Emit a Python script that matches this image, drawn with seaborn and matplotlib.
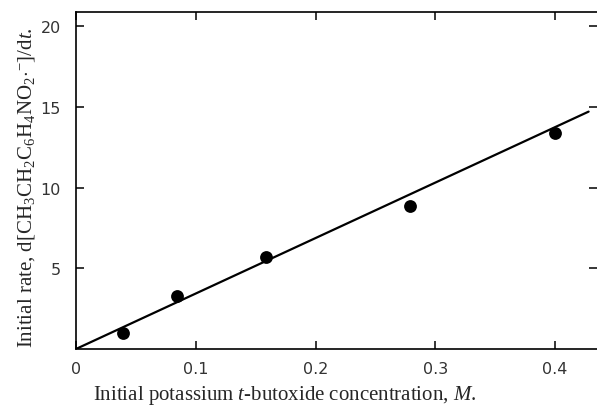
import matplotlib
matplotlib.use("Agg")
import matplotlib.pyplot as plt
import seaborn as sns
import pandas as pd

# data
conc = [0.039, 0.084, 0.159, 0.279, 0.400]
rate = [1.0, 3.3, 5.7, 8.85, 13.4]
fit_x = [0.0, 0.428]
fit_y = [0.0, 14.7]
xticks = [0, 0.1, 0.2, 0.3, 0.4]
xticklabels = ["0", "0.1", "0.2", "0.3", "0.4"]
yticks = [5, 10, 15, 20]
yticklabels = ["5", "10", "15", "20"]

sns.set_theme(style="ticks")
plt.rcParams["font.family"] = ["Liberation Serif", "DejaVu Serif"]
plt.rcParams["mathtext.fontset"] = "custom"
plt.rcParams["mathtext.rm"] = "Liberation Serif"
plt.rcParams["mathtext.it"] = "Liberation Serif:italic"

fig = plt.figure(figsize=(5.97, 4.06), dpi=100)
ax = fig.add_axes([0.1273, 0.138, 0.8727, 0.830])

df = pd.DataFrame({"x": conc, "y": rate})
fit = pd.DataFrame({"x": fit_x, "y": fit_y})
sns.lineplot(data=fit, x="x", y="y", ax=ax, color="black", lw=1.6)
sns.scatterplot(data=df, x="x", y="y", ax=ax, color="black", s=85,
                edgecolor="black", linewidth=0, zorder=3)

ax.set_xlim(0, 0.435)
ax.set_ylim(0, 20.87)
ax.set_xticks(xticks)
ax.set_xticklabels(xticklabels, family="DejaVu Sans", fontsize=11.5,
                   color="#333333")
ax.set_yticks(yticks)
ax.set_yticklabels(yticklabels, family="DejaVu Sans", fontsize=11.5,
                   color="#333333")
ax.tick_params(direction="in", length=6, width=1.1, top=True, right=True,
               color="black")
ax.tick_params(axis="x", pad=9)
ax.tick_params(axis="y", pad=11)
for s in ["left", "bottom", "top"]:
    ax.spines[s].set_linewidth(1.2)
    ax.spines[s].set_color("black")
ax.spines["right"].set_visible(False)

ax.set_xlabel(r"Initial potassium $\mathit{t}$-butoxide concentration, $\mathit{M}$.",
              fontsize=15)
ax.xaxis.set_label_coords(0.401, -0.10)
ax.set_ylabel(r"Initial rate, d[CH$_3$CH$_2$C$_6$H$_4$NO$_2$$\cdot^{-}$]/d$\mathit{t}$.",
              fontsize=15)
ax.yaxis.set_label_coords(-0.074, 0.483)

fig.savefig("out.png", dpi=100)
